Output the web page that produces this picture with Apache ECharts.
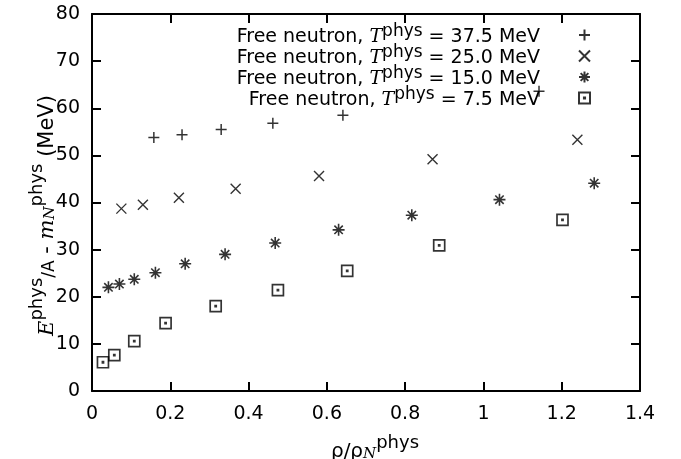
<!DOCTYPE html>
<html><head><meta charset="utf-8">
<script src="https://cdn.jsdelivr.net/npm/echarts@6/dist/echarts.min.js"></script>
<style>html,body{margin:0;padding:0;background:#fff}#c{width:681px;height:459px}</style>
</head><body><div id="c"></div>
<script>
const xTickStep = 0.2, xMin = 0, xMax = 1.4;
const yTickStep = 10, yMin = 0, yMax = 80;
const energies = ['37.5', '25.0', '15.0', '7.5'];
const rho375 = [0.158, 0.230, 0.330, 0.462, 0.641, 1.142];
const e375   = [53.8, 54.4, 55.5, 56.8, 58.5, 63.6];
const rho250 = [0.075, 0.130, 0.222, 0.367, 0.580, 0.870, 1.240];
const e250   = [38.7, 39.5, 41.0, 42.9, 45.6, 49.2, 53.3];
const rho150 = [0.042, 0.070, 0.108, 0.162, 0.238, 0.340, 0.468, 0.630, 0.817, 1.041, 1.283];
const e150   = [22.0, 22.7, 23.7, 25.1, 27.0, 29.0, 31.4, 34.2, 37.3, 40.6, 44.1];
const rho75  = [0.028, 0.057, 0.108, 0.188, 0.316, 0.475, 0.652, 0.887, 1.202];
const e75    = [6.1, 7.6, 10.6, 14.4, 18.0, 21.4, 25.5, 30.9, 36.3];

const SANS = 'DejaVu Sans', SERIF = 'DejaVu Serif';
const sym = {
  plus: 'path://M0,5L10,5M5,0L5,10',
  cross: 'path://M0,0L10,10M0,10L10,0',
  star: 'path://M0,5L10,5M5,0L5,10M1.5,1.5L8.5,8.5M1.5,8.5L8.5,1.5',
  box: 'path://M0,0L10,0L10,10L0,10ZM4.5,4.5L5.5,4.5L5.5,5.5L4.5,5.5Z'
};
function pts(xs, ys) { return xs.map((x, i) => [x, ys[i]]); }
function mk(name, data, symbol, size, bw) {
  return {
    type: 'scatter', name: name, data: data, symbol: symbol, symbolSize: size,
    itemStyle: { color: 'rgba(0,0,0,0)', borderColor: '#000', borderWidth: bw },
    emphasis: { disabled: true }
  };
}
function axLine() { return { show: true, onZero: false, lineStyle: { color: '#000', width: 2 } }; }
function axTick() { return { show: true, inside: true, length: 9, lineStyle: { color: '#000', width: 2 } }; }
const lbl = { color: '#000', fontFamily: SANS, fontSize: 19 };

const chart = echarts.init(document.getElementById('c'));
chart.setOption({
  animation: false,
  backgroundColor: '#fff',
  grid: { left: 92, right: 41, top: 14, bottom: 68, outerBoundsMode: 'none', containLabel: false },
  xAxis: [
    { type: 'value', min: xMin, max: xMax, interval: xTickStep, position: 'bottom',
      axisLine: axLine(), axisTick: axTick(), splitLine: { show: false },
      axisLabel: Object.assign({ margin: 14 }, lbl),
      name: '{r|ρ/ρ}{b|N}{s|phys}', nameLocation: 'middle', nameGap: 43, nameMoveOverlap: false,
      nameTextStyle: { padding: [0, 0, 0, 18], rich: {
        r: { fontFamily: SANS, fontSize: 20, lineHeight: 28, verticalAlign: 'bottom', color: '#000' },
        b: { fontFamily: SERIF, fontStyle: 'italic', fontSize: 15, lineHeight: 18, verticalAlign: 'bottom', color: '#000' },
        s: { fontFamily: SANS, fontSize: 18, lineHeight: 15, verticalAlign: 'top', color: '#000' }
      } } },
    { type: 'value', min: xMin, max: xMax, interval: xTickStep, position: 'top',
      axisLine: axLine(), axisTick: axTick(), axisLabel: { show: false }, splitLine: { show: false } }
  ],
  yAxis: [
    { type: 'value', min: yMin, max: yMax, interval: yTickStep, position: 'left',
      axisLine: axLine(), axisTick: axTick(), splitLine: { show: false },
      axisLabel: Object.assign({ margin: 12 }, lbl),
      name: '{i|E}{s|phys}{a|/A}{t| - }{i|m}{b|N}{s|phys}{t| (MeV)}',
      nameLocation: 'middle', nameRotate: 90, nameGap: 34, nameMoveOverlap: false,
      nameTextStyle: { padding: [0, 26, 0, 0], rich: {
        i: { fontFamily: SERIF, fontStyle: 'italic', fontSize: 21, lineHeight: 30, verticalAlign: 'bottom', color: '#000' },
        t: { fontFamily: SANS, fontSize: 21, lineHeight: 30, verticalAlign: 'bottom', color: '#000' },
        a: { fontFamily: SANS, fontSize: 17, lineHeight: 24, verticalAlign: 'bottom', color: '#000' },
        b: { fontFamily: SERIF, fontStyle: 'italic', fontSize: 15, lineHeight: 20, verticalAlign: 'bottom', color: '#000' },
        s: { fontFamily: SANS, fontSize: 18, lineHeight: 15, verticalAlign: 'top', color: '#000' }
      } } },
    { type: 'value', min: yMin, max: yMax, interval: yTickStep, position: 'right',
      axisLine: axLine(), axisTick: axTick(), axisLabel: { show: false }, splitLine: { show: false } }
  ],
  legend: {
    orient: 'vertical', right: 90, top: 23, align: 'right', padding: 0,
    itemWidth: 11, itemHeight: 11, itemGap: -3, selectedMode: false,
    data: energies,
    formatter: n => '{t|Free neutron, }{i|T}{s|phys}{t| = ' + n + ' MeV}{g| }',
    textStyle: { rich: {
      t: { fontFamily: SANS, fontSize: 19, lineHeight: 24, verticalAlign: 'bottom', color: '#000' },
      i: { fontFamily: SERIF, fontStyle: 'italic', fontSize: 19, lineHeight: 24, verticalAlign: 'bottom', color: '#000' },
      s: { fontFamily: SANS, fontSize: 17, lineHeight: 12, verticalAlign: 'top', color: '#000' },
      g: { width: 34, fontSize: 10 }
    } }
  },
  series: [
    mk(energies[0], pts(rho375, e375), sym.plus, 11, 1.5),
    mk(energies[1], pts(rho250, e250), sym.cross, 10, 1.4),
    mk(energies[2], pts(rho150, e150), sym.star, 12, 1.6),
    mk(energies[3], pts(rho75, e75), sym.box, 11, 1.7)
  ]
});
</script></body></html>
